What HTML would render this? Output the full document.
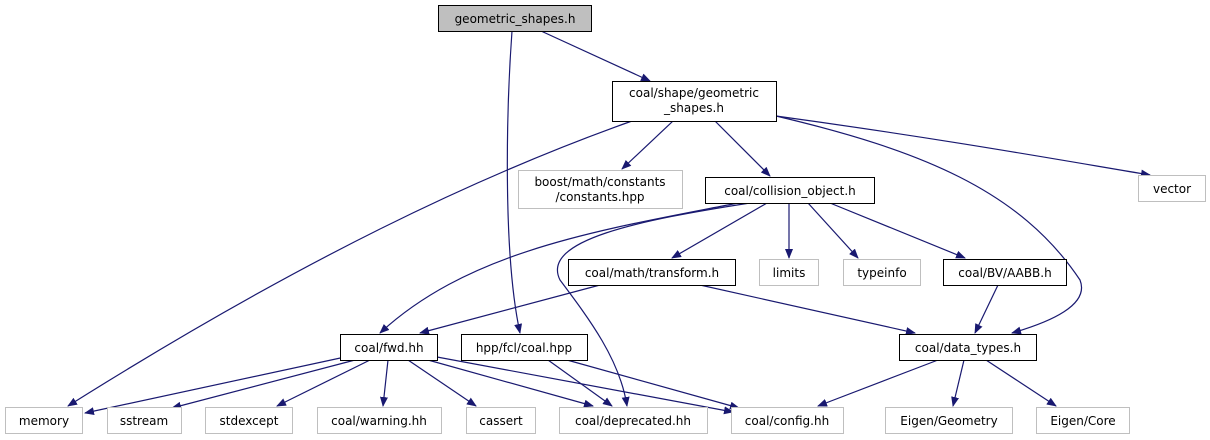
<!DOCTYPE html>
<html><head><meta charset="utf-8"><style>
html,body{margin:0;padding:0;background:#fff;}
svg{display:block;}
text{font-family:"DejaVu Sans","Liberation Sans",sans-serif;font-size:12px;fill:#000;}
</style></head><body>
<svg width="1210" height="440" viewBox="0 0 1210 440" xmlns="http://www.w3.org/2000/svg">
<defs>
<marker id="a" markerWidth="10" markerHeight="8" refX="9" refY="4" orient="auto" markerUnits="userSpaceOnUse">
<path d="M0,0 L10,4 L0,8 Z" fill="#191970"/>
</marker>
</defs>
<g fill="none" stroke="#191970" stroke-width="1.2" marker-end="url(#a)">
<path d="M512,31 C507,100 502,250 520,333"/>
<path d="M541,31 L650,81"/>
<path d="M632,121 C480,175 300,260 68,406"/>
<path d="M673,121 L622,169"/>
<path d="M715,121 L770,176"/>
<path d="M776,116 C950,140 1060,160 1150,175"/>
<path d="M776,116 C920,150 1020,190 1080,280 C1090,305 1050,322 1012,333"/>
<path d="M738,203 C600,230 470,250 380,333"/>
<path d="M750,203 C640,220 540,240 560,280 C590,320 620,360 627,406"/>
<path d="M767,203 L672,258"/>
<path d="M789,203 L789,258"/>
<path d="M808,203 L858,258"/>
<path d="M830,203 L965,258"/>
<path d="M600,285 L420,333"/>
<path d="M700,285 L915,333"/>
<path d="M998,285 L975,333"/>
<path d="M345,357 L85,413"/>
<path d="M355,360 L172,408"/>
<path d="M370,360 L277,406"/>
<path d="M388,360 L383,406"/>
<path d="M408,360 L476,406"/>
<path d="M428,360 L593,406"/>
<path d="M437,357 L733,412"/>
<path d="M548,360 L612,406"/>
<path d="M567,360 L739,408"/>
<path d="M938,360 L818,406"/>
<path d="M964,360 L953,406"/>
<path d="M986,360 L1056,406"/>
</g>
<g stroke-width="1">
<rect x="438.5" y="5.5" width="153" height="26" fill="#bfbfbf" stroke="#000"/>
<rect x="612.5" y="81.5" width="164" height="40" fill="#fff" stroke="#000"/>
<rect x="518.5" y="170.5" width="164" height="38" fill="#fff" stroke="#bfbfbf"/>
<rect x="705.5" y="177.5" width="169" height="26" fill="#fff" stroke="#000"/>
<rect x="1138.5" y="175.5" width="67" height="26" fill="#fff" stroke="#bfbfbf"/>
<rect x="568.5" y="259.5" width="167" height="26" fill="#fff" stroke="#000"/>
<rect x="759.5" y="259.5" width="59" height="26" fill="#fff" stroke="#bfbfbf"/>
<rect x="843.5" y="259.5" width="77" height="26" fill="#fff" stroke="#bfbfbf"/>
<rect x="943.5" y="259.5" width="123" height="26" fill="#fff" stroke="#000"/>
<rect x="340.5" y="334.5" width="97" height="26" fill="#fff" stroke="#000"/>
<rect x="461.5" y="334.5" width="126" height="26" fill="#fff" stroke="#000"/>
<rect x="899.5" y="334.5" width="137" height="26" fill="#fff" stroke="#000"/>
<rect x="5.5" y="407.5" width="77" height="26" fill="#fff" stroke="#bfbfbf"/>
<rect x="107.5" y="407.5" width="74" height="26" fill="#fff" stroke="#bfbfbf"/>
<rect x="205.5" y="407.5" width="87" height="26" fill="#fff" stroke="#bfbfbf"/>
<rect x="317.5" y="407.5" width="124" height="26" fill="#fff" stroke="#bfbfbf"/>
<rect x="466.5" y="407.5" width="69" height="26" fill="#fff" stroke="#bfbfbf"/>
<rect x="559.5" y="407.5" width="148" height="26" fill="#fff" stroke="#bfbfbf"/>
<rect x="731.5" y="407.5" width="112" height="26" fill="#fff" stroke="#bfbfbf"/>
<rect x="885.5" y="407.5" width="127" height="26" fill="#fff" stroke="#bfbfbf"/>
<rect x="1036.5" y="407.5" width="93" height="26" fill="#fff" stroke="#bfbfbf"/>
</g>
<g text-anchor="middle">
<text x="515" y="23">geometric_shapes.h</text>
<text x="694" y="97">coal/shape/geometric</text>
<text x="694" y="112">_shapes.h</text>
<text x="600" y="186">boost/math/constants</text>
<text x="600" y="201">/constants.hpp</text>
<text x="790" y="195">coal/collision_object.h</text>
<text x="1172" y="193">vector</text>
<text x="652" y="277">coal/math/transform.h</text>
<text x="789" y="277">limits</text>
<text x="882" y="277">typeinfo</text>
<text x="1005" y="277">coal/BV/AABB.h</text>
<text x="389" y="352">coal/fwd.hh</text>
<text x="524" y="352">hpp/fcl/coal.hpp</text>
<text x="968" y="352">coal/data_types.h</text>
<text x="44" y="425">memory</text>
<text x="144" y="425">sstream</text>
<text x="249" y="425">stdexcept</text>
<text x="379" y="425">coal/warning.hh</text>
<text x="501" y="425">cassert</text>
<text x="633" y="425">coal/deprecated.hh</text>
<text x="787" y="425">coal/config.hh</text>
<text x="949" y="425">Eigen/Geometry</text>
<text x="1083" y="425">Eigen/Core</text>
</g>
</svg>
</body></html>
